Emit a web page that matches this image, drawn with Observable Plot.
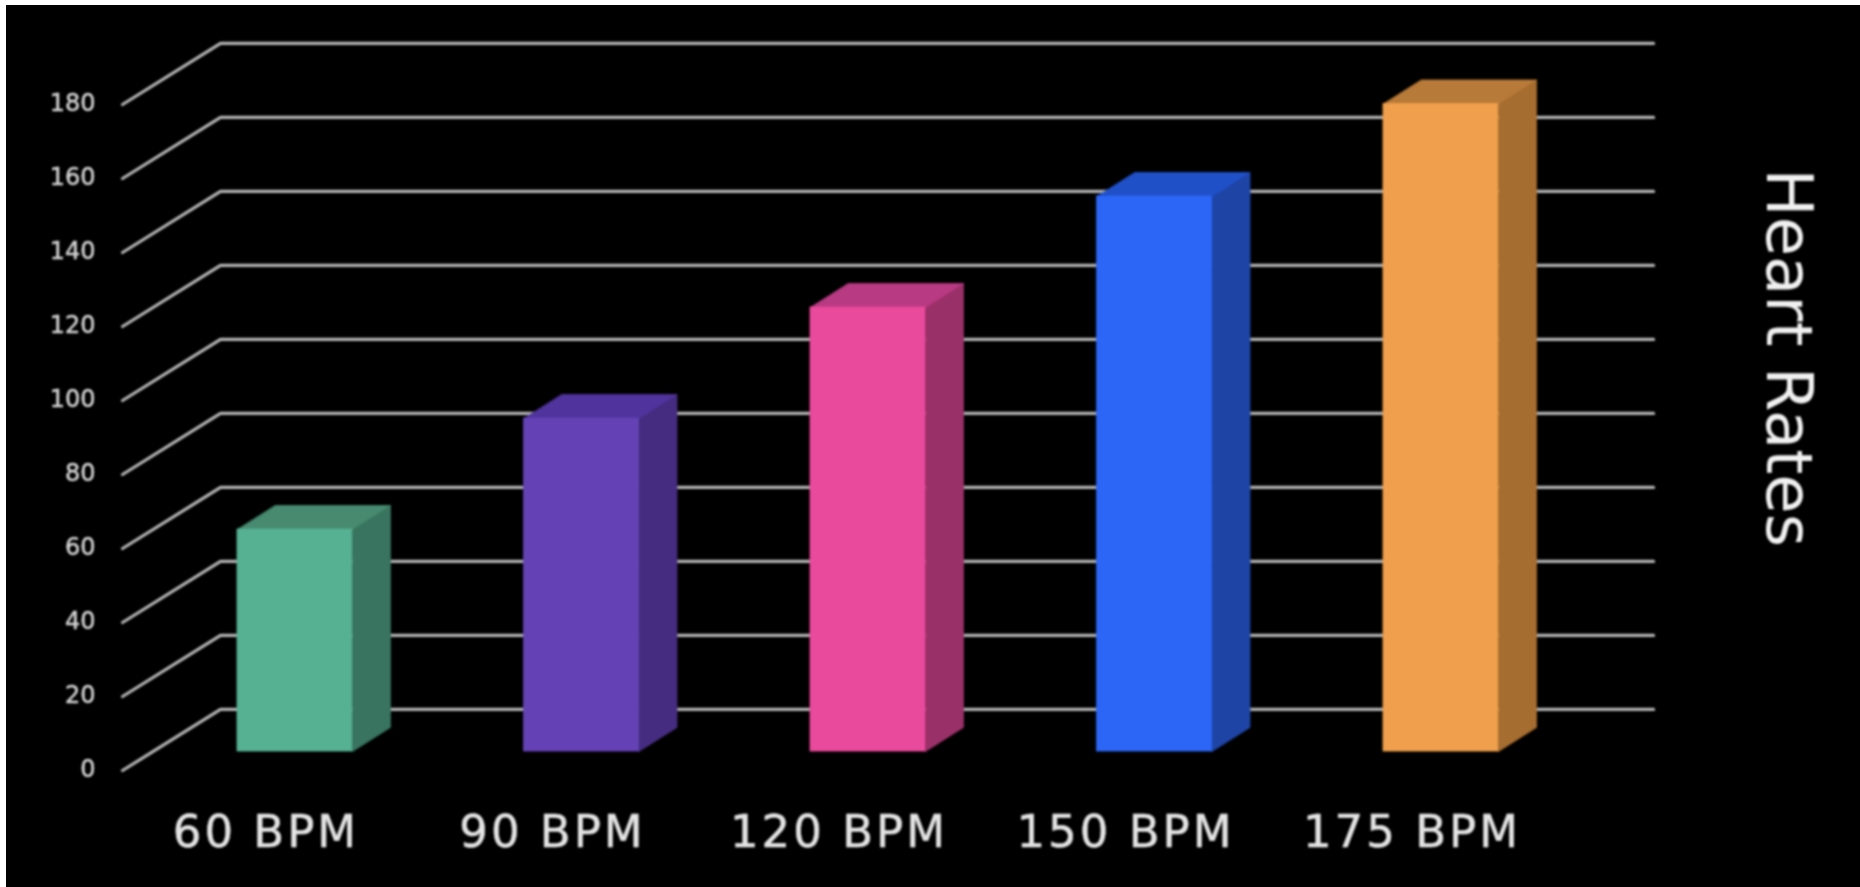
<!DOCTYPE html>
<html>
<head>
<meta charset="utf-8">
<script src="https://cdn.jsdelivr.net/npm/d3@7"></script>
<script src="https://cdn.jsdelivr.net/npm/@observablehq/plot@0.6"></script>
<style>
  html, body { margin: 0; padding: 0; background: #fff; overflow: hidden; }
  #chart { width: 1860px; height: 887px; background: #000; clip-path: inset(5px 0 0 6px); overflow: hidden; }
  #chart svg { display: block; background: #000; filter: blur(0.8px); }
  [aria-label="y-axis tick label"] { stroke: #d2d2d2; stroke-width: 0.5px; }
  [aria-label="x-axis tick label"] { stroke: #e4e4e4; stroke-width: 0.5px; letter-spacing: 3px; }
</style>
</head>
<body>
<div id="chart"></div>
<script>
// Data
const categories = ["60 BPM", "90 BPM", "120 BPM", "150 BPM", "175 BPM"];
const heartRates = [60, 90, 120, 150, 175];
const yTicks = [0, 20, 40, 60, 80, 100, 120, 140, 160, 180];
const frontColors = ["#56b193", "#6442b5", "#ea4a9b", "#2c66f6", "#f09f4c"];
const sideColors  = ["#38745f", "#452c80", "#9a3068", "#1e44a6", "#a66d30"];
const topColors   = ["#478a70", "#50339c", "#b83a82", "#2050c8", "#b87a38"];
const seriesTitle = "Heart Rates";

// Pseudo-3D geometry, in data units (x: category index, y: heart rate)
const halfBar = 0.2007;          // half a bar's width
const barBase = 5.13;            // the bars stand slightly behind the front of the floor
const barDepthX = 0.1326, barDepthY = 6.5;
const wallFrontX = -0.602, wallBackX = -0.26, wallEndX = 4.742, wallDepthY = 16.5;

const indices = categories.map((_, i) => i);

// Wall / floor lines: a diagonal from the front and a horizontal along the back
const gridLines = yTicks.flatMap((t) => [
  {t, x: wallFrontX, y: t},
  {t, x: wallBackX, y: t + wallDepthY},
  {t, x: wallEndX, y: t + wallDepthY}
]);

const bars = indices.map((i) => ({
  i,
  x1: i - halfBar,
  x2: i + halfBar,
  y1: barBase,
  y2: barBase + heartRates[i],
  front: frontColors[i],
  side: sideColors[i],
  top: topColors[i]
}));

const sideFaces = bars.flatMap((b) => [
  {i: b.i, x: b.x2, y: b.y1, c: b.side},
  {i: b.i, x: b.x2 + barDepthX, y: b.y1 + barDepthY, c: b.side},
  {i: b.i, x: b.x2 + barDepthX, y: b.y2 + barDepthY, c: b.side},
  {i: b.i, x: b.x2, y: b.y2, c: b.side}
]);

const topFaces = bars.flatMap((b) => [
  {i: b.i, x: b.x1, y: b.y2, c: b.top},
  {i: b.i, x: b.x2, y: b.y2, c: b.top},
  {i: b.i, x: b.x2 + barDepthX, y: b.y2 + barDepthY, c: b.top},
  {i: b.i, x: b.x1 + barDepthX, y: b.y2 + barDepthY, c: b.top}
]);

const chart = Plot.plot({
  width: 1860,
  height: 887,
  marginLeft: 95,
  marginRight: 0,
  marginTop: 0,
  marginBottom: 72,
  style: {background: "#000", color: "#d8d8d8", overflow: "hidden"},
  x: {domain: [0, 4], range: [294.5, 1440.5]},
  y: {domain: [0, 180], range: [770, 104]},
  color: {type: "identity"},
  marks: [
    Plot.line(gridLines, {
      x: "x", y: "y", z: "t",
      stroke: "#b2b2b2",
      strokeWidth: 3.2,
      strokeLinejoin: "miter"
    }),
    Plot.line(sideFaces, {x: "x", y: "y", z: "i", fill: "c", stroke: "c", strokeWidth: 0.8, curve: "linear-closed"}),
    Plot.line(topFaces, {x: "x", y: "y", z: "i", fill: "c", stroke: "c", strokeWidth: 0.8, curve: "linear-closed"}),
    Plot.rect(bars, {x1: "x1", x2: "x2", y1: "y1", y2: "y2", fill: "front", stroke: "front", strokeWidth: 0.8}),
    Plot.axisY({
      ticks: yTicks,
      tickSize: 0,
      tickPadding: 0,
      label: null,
      fontSize: 24,
      fontFamily: "DejaVu Sans",
      fill: "#d2d2d2",
      dy: -1
    }),
    Plot.axisX({
      ticks: indices,
      tickFormat: (i) => categories[i],
      tickSize: 0,
      tickPadding: 0,
      label: null,
      fontSize: 45,
      fontFamily: "DejaVu Sans",
      dx: -29,
      fill: "#e4e4e4"
    }),
    Plot.text([seriesTitle], {
      frameAnchor: "top-right",
      textAnchor: "start",
      rotate: 90,
      dx: -48,
      dy: 168,
      fontSize: 64,
      fontFamily: "DejaVu Sans",
      fill: "#f0f0f0"
    })
  ]
});

document.getElementById("chart").appendChild(chart);
</script>
</body>
</html>
